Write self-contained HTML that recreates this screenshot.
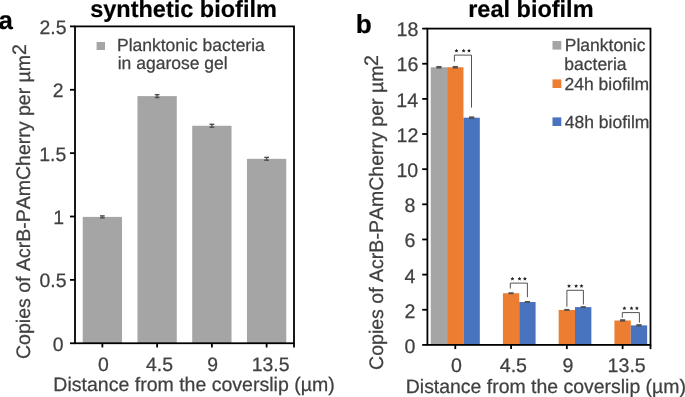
<!DOCTYPE html>
<html><head><meta charset="utf-8"><title>figure</title>
<style>
html,body{margin:0;padding:0;background:#fff;}
body{width:685px;height:397px;overflow:hidden;}
svg{display:block;will-change:transform;font-kerning:none;text-rendering:geometricPrecision;font-family:"Liberation Sans",sans-serif;fill:#404040;}
text{stroke:#404040;stroke-width:0.25px;}
text[font-weight=bold]{stroke:#000;stroke-width:0.2px;}
</style></head><body>
<svg width="685" height="397" viewBox="0 0 685 397">
<rect width="685" height="397" fill="#fff"/>
<rect x="82.72" y="216.89" width="39.30" height="126.36" fill="#a5a5a5"/>
<line x1="100.03" y1="215.89" x2="104.72" y2="215.89" stroke="#525252" stroke-width="1.45"/>
<line x1="100.03" y1="217.89" x2="104.72" y2="217.89" stroke="#525252" stroke-width="1.45"/>
<line x1="102.38" y1="215.89" x2="102.38" y2="217.89" stroke="#525252" stroke-width="1.45"/>
<rect x="137.47" y="96.11" width="39.30" height="247.14" fill="#a5a5a5"/>
<line x1="154.78" y1="94.66" x2="159.47" y2="94.66" stroke="#525252" stroke-width="1.45"/>
<line x1="154.78" y1="97.56" x2="159.47" y2="97.56" stroke="#525252" stroke-width="1.45"/>
<line x1="157.12" y1="94.66" x2="157.12" y2="97.56" stroke="#525252" stroke-width="1.45"/>
<rect x="192.22" y="125.76" width="39.30" height="217.49" fill="#a5a5a5"/>
<line x1="209.53" y1="124.31" x2="214.22" y2="124.31" stroke="#525252" stroke-width="1.45"/>
<line x1="209.53" y1="127.21" x2="214.22" y2="127.21" stroke="#525252" stroke-width="1.45"/>
<line x1="211.88" y1="124.31" x2="211.88" y2="127.21" stroke="#525252" stroke-width="1.45"/>
<rect x="246.97" y="158.84" width="39.30" height="184.41" fill="#a5a5a5"/>
<line x1="264.27" y1="157.39" x2="268.98" y2="157.39" stroke="#525252" stroke-width="1.45"/>
<line x1="264.27" y1="160.29" x2="268.98" y2="160.29" stroke="#525252" stroke-width="1.45"/>
<line x1="266.62" y1="157.39" x2="266.62" y2="160.29" stroke="#525252" stroke-width="1.45"/>
<rect x="75.0" y="26.4" width="219.0" height="316.85" fill="none" stroke="#000" stroke-width="1.8"/>
<line x1="70.00" y1="343.25" x2="75.00" y2="343.25" stroke="#000" stroke-width="1.8"/>
<text transform="translate(52.64,350.85) scale(1.0000,1)" font-size="19.4">0</text>
<line x1="70.00" y1="279.88" x2="75.00" y2="279.88" stroke="#000" stroke-width="1.8"/>
<text transform="translate(39.57,287.48) scale(1.0000,1)" font-size="19.4">0.5</text>
<line x1="70.00" y1="216.51" x2="75.00" y2="216.51" stroke="#000" stroke-width="1.8"/>
<text transform="translate(53.25,224.11) scale(1.0000,1)" font-size="19.4">1</text>
<line x1="70.00" y1="153.14" x2="75.00" y2="153.14" stroke="#000" stroke-width="1.8"/>
<text transform="translate(39.23,160.74) scale(1.0000,1)" font-size="19.4">1.5</text>
<line x1="70.00" y1="89.77" x2="75.00" y2="89.77" stroke="#000" stroke-width="1.8"/>
<text transform="translate(52.67,97.37) scale(1.0000,1)" font-size="19.4">2</text>
<line x1="70.00" y1="26.40" x2="75.00" y2="26.40" stroke="#000" stroke-width="1.8"/>
<text transform="translate(39.47,34.00) scale(1.0000,1)" font-size="19.4">2.5</text>
<line x1="102.38" y1="343.25" x2="102.38" y2="347.45" stroke="#000" stroke-width="1.8"/>
<text transform="translate(97.89,370.70) scale(1.0000,1)" font-size="19.4">0</text>
<line x1="157.12" y1="343.25" x2="157.12" y2="347.45" stroke="#000" stroke-width="1.8"/>
<text transform="translate(145.99,370.70) scale(1.0000,1)" font-size="19.4">4.5</text>
<line x1="211.88" y1="343.25" x2="211.88" y2="347.45" stroke="#000" stroke-width="1.8"/>
<text transform="translate(207.29,370.70) scale(1.0000,1)" font-size="19.4">9</text>
<line x1="266.62" y1="343.25" x2="266.62" y2="347.45" stroke="#000" stroke-width="1.8"/>
<text transform="translate(251.79,370.70) scale(1.0000,1)" font-size="19.4">13.5</text>
<line x1="294.00" y1="343.25" x2="294.00" y2="347.45" stroke="#000" stroke-width="1.8"/>
<text transform="translate(53.37,390.70) scale(1.0000,1)" font-size="19.53">Distance from the coverslip (µm)</text>
<text transform="translate(30.10,358.98) rotate(-90) scale(1,1.0000)" font-size="19.522">Copies of AcrB-PAmCherry per µm</text>
<text transform="translate(26.20,55.11) rotate(-90) scale(1,1.0000)" font-size="19.522">2</text>
<rect x="96.60" y="42.00" width="8.40" height="8.00" fill="#a5a5a5"/>
<text transform="translate(116.96,50.70) scale(1.0000,1)" font-size="17.5">Planktonic bacteria</text>
<text transform="translate(117.73,68.80) scale(1.0000,1)" font-size="17.5">in agarose gel</text>
<text transform="translate(90.14,16.90) scale(1.0000,1)" font-size="23.5" font-weight="bold" fill="#000">synthetic biofilm</text>
<text transform="translate(-1.61,29.30) scale(1.0000,1)" font-size="25.8" font-weight="bold" fill="#000">a</text>
<rect x="430.76" y="67.26" width="16.35" height="277.64" fill="#a5a5a5"/>
<line x1="436.34" y1="67.26" x2="441.54" y2="67.26" stroke="#525252" stroke-width="2.6"/>
<rect x="447.11" y="67.26" width="16.35" height="277.64" fill="#ed7d31"/>
<rect x="463.46" y="117.69" width="16.35" height="227.21" fill="#4873be"/>
<path d="M454.4,61.7 V55.1 H471.5 V107.6" fill="none" stroke="#404040" stroke-width="0.9"/>
<line x1="452.69" y1="67.26" x2="457.89" y2="67.26" stroke="#525252" stroke-width="2.6"/>
<line x1="469.04" y1="117.69" x2="474.24" y2="117.69" stroke="#525252" stroke-width="2.6"/>
<polygon points="456.50,48.70 457.12,49.95 458.50,50.15 457.50,51.12 457.73,52.50 456.50,51.85 455.27,52.50 455.50,51.12 454.50,50.15 455.88,49.95" fill="#222"/>
<polygon points="463.60,48.70 464.22,49.95 465.60,50.15 464.60,51.12 464.83,52.50 463.60,51.85 462.37,52.50 462.60,51.12 461.60,50.15 462.98,49.95" fill="#222"/>
<polygon points="469.00,48.70 469.62,49.95 471.00,50.15 470.00,51.12 470.23,52.50 469.00,51.85 467.77,52.50 468.00,51.12 467.00,50.15 468.38,49.95" fill="#222"/>
<rect x="502.89" y="293.24" width="16.35" height="51.66" fill="#ed7d31"/>
<rect x="519.24" y="302.02" width="16.35" height="42.88" fill="#4873be"/>
<path d="M510.3,288.6 V283.1 H527.4 V297.2" fill="none" stroke="#404040" stroke-width="0.9"/>
<line x1="508.46" y1="293.24" x2="513.66" y2="293.24" stroke="#525252" stroke-width="2.0"/>
<line x1="524.81" y1="302.02" x2="530.01" y2="302.02" stroke="#525252" stroke-width="2.0"/>
<polygon points="512.40,276.70 513.02,277.95 514.40,278.15 513.40,279.12 513.63,280.50 512.40,279.85 511.17,280.50 511.40,279.12 510.40,278.15 511.78,277.95" fill="#222"/>
<polygon points="519.50,276.70 520.12,277.95 521.50,278.15 520.50,279.12 520.73,280.50 519.50,279.85 518.27,280.50 518.50,279.12 517.50,278.15 518.88,277.95" fill="#222"/>
<polygon points="524.90,276.70 525.52,277.95 526.90,278.15 525.90,279.12 526.13,280.50 524.90,279.85 523.67,280.50 523.90,279.12 522.90,278.15 524.28,277.95" fill="#222"/>
<rect x="558.66" y="309.93" width="16.35" height="34.97" fill="#ed7d31"/>
<rect x="575.01" y="307.12" width="16.35" height="37.78" fill="#4873be"/>
<path d="M566.9,306.7 V290.3 H583.4 V304.5" fill="none" stroke="#404040" stroke-width="0.9"/>
<line x1="564.24" y1="309.93" x2="569.44" y2="309.93" stroke="#525252" stroke-width="2.0"/>
<line x1="580.59" y1="307.12" x2="585.79" y2="307.12" stroke="#525252" stroke-width="2.0"/>
<polygon points="569.00,283.90 569.62,285.15 571.00,285.35 570.00,286.32 570.23,287.70 569.00,287.05 567.77,287.70 568.00,286.32 567.00,285.35 568.38,285.15" fill="#222"/>
<polygon points="576.10,283.90 576.72,285.15 578.10,285.35 577.10,286.32 577.33,287.70 576.10,287.05 574.87,287.70 575.10,286.32 574.10,285.35 575.48,285.15" fill="#222"/>
<polygon points="581.50,283.90 582.12,285.15 583.50,285.35 582.50,286.32 582.73,287.70 581.50,287.05 580.27,287.70 580.50,286.32 579.50,285.35 580.88,285.15" fill="#222"/>
<rect x="614.44" y="320.47" width="16.35" height="24.43" fill="#ed7d31"/>
<rect x="630.79" y="325.39" width="16.35" height="19.51" fill="#4873be"/>
<path d="M622.3,317.7 V312.6 H639.4 V322.7" fill="none" stroke="#404040" stroke-width="0.9"/>
<line x1="620.01" y1="320.47" x2="625.21" y2="320.47" stroke="#525252" stroke-width="2.5"/>
<line x1="636.36" y1="325.39" x2="641.56" y2="325.39" stroke="#525252" stroke-width="2.5"/>
<polygon points="624.40,306.20 625.02,307.45 626.40,307.65 625.40,308.62 625.63,310.00 624.40,309.35 623.17,310.00 623.40,308.62 622.40,307.65 623.78,307.45" fill="#222"/>
<polygon points="631.50,306.20 632.12,307.45 633.50,307.65 632.50,308.62 632.73,310.00 631.50,309.35 630.27,310.00 630.50,308.62 629.50,307.65 630.88,307.45" fill="#222"/>
<polygon points="636.90,306.20 637.52,307.45 638.90,307.65 637.90,308.62 638.13,310.00 636.90,309.35 635.67,310.00 635.90,308.62 634.90,307.65 636.28,307.45" fill="#222"/>
<rect x="427.4" y="28.6" width="223.10000000000002" height="316.29999999999995" fill="none" stroke="#000" stroke-width="1.8"/>
<line x1="422.20" y1="344.90" x2="427.40" y2="344.90" stroke="#000" stroke-width="1.8"/>
<text transform="translate(404.54,353.10) scale(1.0000,1)" font-size="19.6">0</text>
<line x1="422.20" y1="309.76" x2="427.40" y2="309.76" stroke="#000" stroke-width="1.8"/>
<text transform="translate(404.56,317.89) scale(1.0000,1)" font-size="19.6">2</text>
<line x1="422.20" y1="274.61" x2="427.40" y2="274.61" stroke="#000" stroke-width="1.8"/>
<text transform="translate(404.61,282.68) scale(1.0000,1)" font-size="19.6">4</text>
<line x1="422.20" y1="239.47" x2="427.40" y2="239.47" stroke="#000" stroke-width="1.8"/>
<text transform="translate(404.49,247.47) scale(1.0000,1)" font-size="19.6">6</text>
<line x1="422.20" y1="204.32" x2="427.40" y2="204.32" stroke="#000" stroke-width="1.8"/>
<text transform="translate(404.56,212.26) scale(1.0000,1)" font-size="19.6">8</text>
<line x1="422.20" y1="169.18" x2="427.40" y2="169.18" stroke="#000" stroke-width="1.8"/>
<text transform="translate(396.45,177.04) scale(1.0000,1)" font-size="19.6">10</text>
<line x1="422.20" y1="134.03" x2="427.40" y2="134.03" stroke="#000" stroke-width="1.8"/>
<text transform="translate(396.58,141.83) scale(1.0000,1)" font-size="19.6">12</text>
<line x1="422.20" y1="98.89" x2="427.40" y2="98.89" stroke="#000" stroke-width="1.8"/>
<text transform="translate(396.36,106.62) scale(1.0000,1)" font-size="19.6">14</text>
<line x1="422.20" y1="63.74" x2="427.40" y2="63.74" stroke="#000" stroke-width="1.8"/>
<text transform="translate(396.50,71.41) scale(1.0000,1)" font-size="19.6">16</text>
<line x1="422.20" y1="28.60" x2="427.40" y2="28.60" stroke="#000" stroke-width="1.8"/>
<text transform="translate(396.50,36.20) scale(1.0000,1)" font-size="19.6">18</text>
<line x1="455.29" y1="344.90" x2="455.29" y2="349.10" stroke="#000" stroke-width="1.8"/>
<text transform="translate(451.04,372.10) scale(1.0000,1)" font-size="19.6">0</text>
<line x1="511.06" y1="344.90" x2="511.06" y2="349.10" stroke="#000" stroke-width="1.8"/>
<text transform="translate(499.75,372.10) scale(1.0000,1)" font-size="19.6">4.5</text>
<line x1="566.84" y1="344.90" x2="566.84" y2="349.10" stroke="#000" stroke-width="1.8"/>
<text transform="translate(562.44,372.10) scale(1.0000,1)" font-size="19.6">9</text>
<line x1="622.61" y1="344.90" x2="622.61" y2="349.10" stroke="#000" stroke-width="1.8"/>
<text transform="translate(607.60,372.10) scale(1.0000,1)" font-size="19.6">13.5</text>
<line x1="650.50" y1="344.90" x2="650.50" y2="349.10" stroke="#000" stroke-width="1.8"/>
<text transform="translate(405.77,392.90) scale(1.0000,1)" font-size="19.44">Distance from the coverslip (µm)</text>
<text transform="translate(382.50,369.98) rotate(-90) scale(1,1.0000)" font-size="19.568">Copies of AcrB-PAmCherry per µm</text>
<text transform="translate(378.20,66.11) rotate(-90) scale(1,1.0000)" font-size="19.568">2</text>
<rect x="552.50" y="41.00" width="8.80" height="8.60" fill="#a5a5a5"/>
<rect x="552.50" y="79.40" width="8.80" height="8.60" fill="#ed7d31"/>
<rect x="552.50" y="117.40" width="8.80" height="8.60" fill="#4873be"/>
<text transform="translate(564.74,51.40) scale(1.0000,1)" font-size="17.5">Planktonic</text>
<text transform="translate(564.30,69.70) scale(1.0000,1)" font-size="17.5">bacteria</text>
<text transform="translate(564.53,89.80) scale(1.0000,1)" font-size="17.5">24h biofilm</text>
<text transform="translate(564.77,127.60) scale(1.0000,1)" font-size="17.5">48h biofilm</text>
<text transform="translate(468.18,17.00) scale(1.0000,1)" font-size="23.5" font-weight="bold" fill="#000">real biofilm</text>
<text transform="translate(355.63,33.00) scale(1.0000,1)" font-size="26.2" font-weight="bold" fill="#000">b</text>
</svg>
</body></html>
